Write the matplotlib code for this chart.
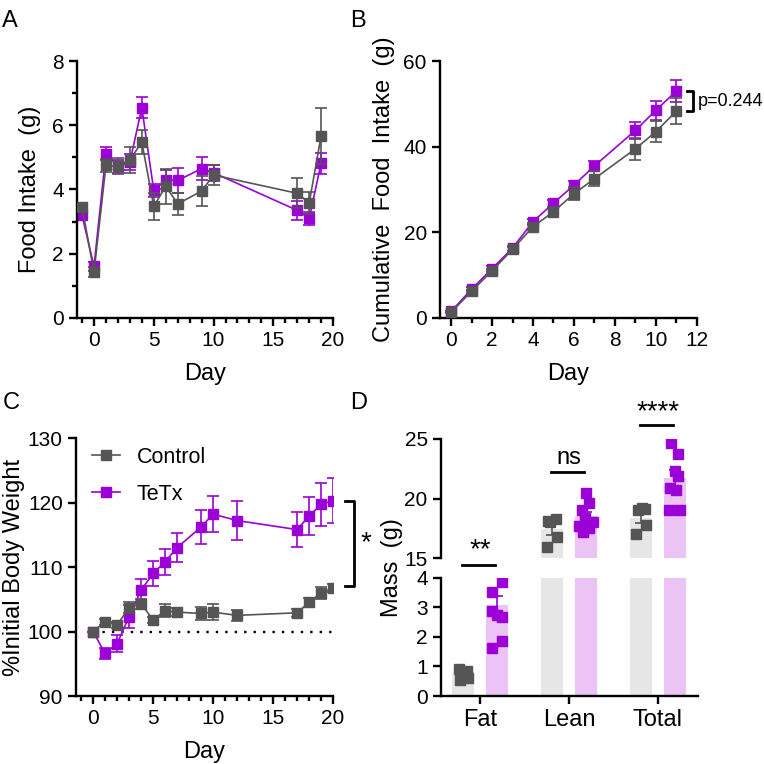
import matplotlib
matplotlib.use("Agg")
import matplotlib.pyplot as plt
import numpy as np
from matplotlib.ticker import MultipleLocator
from matplotlib.lines import Line2D

plt.rcParams['font.family'] = ['Liberation Sans', 'DejaVu Sans']
plt.rcParams['axes.linewidth'] = 1.7

GRAY = '#555555'
PURPLE = '#9b00d6'
LGRAY = '#e6e6e6'
LPURPLE = '#ebc3f5'

# ---------------- Panel A data ----------------
a_days = [-1, 0, 1, 2, 3, 4, 5, 6, 7, 9, 10, 17, 18, 19]
a_ctrl = [3.45, 1.42, 4.75, 4.72, 4.92, 5.48, 3.47, 4.10, 3.55, 3.95, 4.45, 3.88, 3.58, 5.67]
a_ctrl_err = [0.10, 0.15, 0.20, 0.25, 0.40, 0.38, 0.42, 0.55, 0.33, 0.47, 0.30, 0.47, 0.35, 0.87]
a_tetx = [3.20, 1.60, 5.12, 4.72, 4.85, 6.55, 3.97, 4.30, 4.28, 4.65, 4.52, 3.35, 3.10, 4.82]
a_tetx_err = [0.10, 0.15, 0.20, 0.20, 0.25, 0.32, 0.20, 0.30, 0.38, 0.37, 0.25, 0.30, 0.20, 0.33]

# ---------------- Panel B data ----------------
b_days = [0, 1, 2, 3, 4, 5, 6, 7, 9, 10, 11]
b_ctrl = [1.3, 6.2, 11.0, 16.0, 21.3, 24.8, 29.0, 32.5, 39.5, 43.5, 48.3]
b_ctrl_err = [0.2, 0.4, 0.5, 0.6, 0.8, 1.0, 1.5, 1.8, 2.5, 2.5, 3.0]
b_tetx = [1.5, 6.7, 11.5, 16.3, 22.5, 26.8, 31.0, 35.5, 43.8, 48.5, 53.0]
b_tetx_err = [0.2, 0.4, 0.5, 0.6, 0.7, 0.8, 1.0, 1.2, 2.0, 2.2, 2.5]
b_pval = "p=0.244"

# ---------------- Panel C data ----------------
c_days = [0, 1, 2, 3, 4, 5, 6, 7, 9, 10, 12, 17, 18, 19, 20]
c_ctrl = [100, 101.5, 101.0, 103.7, 104.3, 101.8, 103.2, 103.0, 102.8, 103.0, 102.5, 102.9, 104.5, 106.0, 106.7]
c_ctrl_err = [0, 0.5, 0.5, 0.8, 0.8, 0.5, 1.0, 0.6, 1.0, 1.2, 0.9, 0.6, 0.7, 0.9, 0.6]
c_tetx = [100, 96.6, 98.1, 102.3, 106.4, 109.0, 110.8, 113.0, 116.2, 118.2, 117.2, 115.8, 117.9, 119.7, 120.3]
c_tetx_err = [0, 0.8, 1.3, 1.8, 1.8, 2.0, 2.0, 2.2, 2.6, 2.8, 3.0, 2.7, 3.0, 3.3, 3.5]

# ---------------- Panel D data ----------------
d_cats = ['Fat', 'Lean', 'Total']
d_ctrl_pts = [[0.90, 0.85, 0.75, 0.60, 0.55, 0.80],
              [18.3, 18.1, 18.0, 16.8, 15.9],
              [19.2, 19.1, 19.0, 17.8, 17.0]]
d_tetx_pts = [[3.85, 3.53, 2.87, 2.73, 2.68, 1.85, 1.63],
              [20.5, 19.6, 19.0, 18.4, 18.0, 17.7, 17.5, 17.2],
              [24.7, 23.7, 22.3, 21.9, 20.9, 20.7, 19.05, 19.05]]
d_ctrl_mean = [0.73, 17.4, 18.4]
d_ctrl_err = [0.07, 0.5, 0.45]
d_tetx_mean = [3.08, 18.5, 21.7]
d_tetx_err = [0.32, 0.4, 0.7]
d_sig = ['**', 'ns', '****']
d_ctrl_jit = [[-0.05, 0.04, -0.02, 0.06, -0.03, 0.01],
              [0.04, -0.05, -0.02, 0.06, -0.06],
              [0.01, 0.05, -0.03, 0.06, -0.06]]
d_tetx_jit = [[0.06, -0.06, -0.06, 0.0, 0.06, 0.06, -0.06],
              [0.0, 0.03, -0.04, -0.01, 0.08, -0.08, 0.03, -0.03],
              [-0.04, 0.03, 0.0, 0.04, -0.05, 0.01, -0.07, 0.06]]

fig = plt.figure(figsize=(7.64, 7.64), dpi=100)

FS_TICK = 15
FS_LAB = 17
MS = 7.5

def style(ax):
    for s in ['top', 'right']:
        ax.spines[s].set_visible(False)
    ax.tick_params(axis='both', which='major', labelsize=FS_TICK, length=6, width=1.7, direction='out')
    ax.tick_params(axis='both', which='minor', length=3.5, width=1.7, direction='out')

def series(ax, x, y, e, color, label=None, z=2):
    ax.errorbar(x, y, yerr=e, color=color, marker='s', markersize=MS, lw=1.2,
                elinewidth=1.2, capsize=4, capthick=1.2, label=label, zorder=z)

# Panel A
axA = fig.add_axes([0.1008, 0.584, 0.3352, 0.336])
series(axA, a_days, a_tetx, a_tetx_err, PURPLE, z=2)
series(axA, a_days, a_ctrl, a_ctrl_err, GRAY, z=3)
axA.set_xlim(-1.42, 20)
axA.set_ylim(0, 8)
axA.xaxis.set_major_locator(MultipleLocator(5))
axA.xaxis.set_minor_locator(MultipleLocator(1))
axA.yaxis.set_major_locator(MultipleLocator(2))
axA.yaxis.set_minor_locator(MultipleLocator(1))
axA.set_xlabel('Day', fontsize=FS_LAB, labelpad=9)
axA.set_ylabel('Food Intake  (g)', fontsize=FS_LAB, labelpad=8)
style(axA)

# Panel B
axB = fig.add_axes([0.576, 0.584, 0.336, 0.336])
series(axB, b_days, b_tetx, b_tetx_err, PURPLE, z=2)
series(axB, b_days, b_ctrl, b_ctrl_err, GRAY, z=3)
axB.set_xlim(-0.54, 12)
axB.set_ylim(0, 60)
axB.xaxis.set_major_locator(MultipleLocator(2))
axB.xaxis.set_minor_locator(MultipleLocator(1))
axB.yaxis.set_major_locator(MultipleLocator(20))
axB.set_xlabel('Day', fontsize=FS_LAB, labelpad=9)
axB.set_ylabel('Cumulative  Food  Intake  (g)', fontsize=FS_LAB, labelpad=6)
style(axB)
bx0, bx1 = b_days[-1] + 0.5, b_days[-1] + 0.84
axB.plot([bx0, bx1, bx1, bx0], [b_tetx[-1], b_tetx[-1], b_ctrl[-1], b_ctrl[-1]],
         color='black', lw=2, clip_on=False)
axB.text(bx1 + 0.2, (b_tetx[-1] + b_ctrl[-1]) / 2, b_pval, fontsize=13,
         va='center', ha='left')

# Panel C
axC = fig.add_axes([0.0995, 0.089, 0.3365, 0.3377])
series(axC, c_days, c_ctrl, c_ctrl_err, GRAY, z=3)
series(axC, c_days, c_tetx, c_tetx_err, PURPLE, z=2)
axC.plot([0, 20], [100, 100], color='black', lw=1.7, ls=(0, (1, 3)), zorder=1)
axC.set_xlim(-1.42, 20)
axC.set_ylim(90, 130)
axC.xaxis.set_major_locator(MultipleLocator(5))
axC.xaxis.set_minor_locator(MultipleLocator(1))
axC.yaxis.set_major_locator(MultipleLocator(10))
axC.set_xlabel('Day', fontsize=FS_LAB, labelpad=9)
axC.set_ylabel('%Initial Body Weight', fontsize=FS_LAB, labelpad=2)
style(axC)
handles = [Line2D([], [], color=GRAY, marker='s', markersize=MS, lw=1.2),
           Line2D([], [], color=PURPLE, marker='s', markersize=MS, lw=1.2)]
axC.legend(handles, ['Control', 'TeTx'], loc='upper left', frameon=False, fontsize=15.5,
           handlelength=1.3, handletextpad=0.75, borderaxespad=0.0,
           bbox_to_anchor=(0.03, 1.0), labelspacing=0.75)
cx0, cx1 = 21.0, 21.76
axC.plot([cx0, cx1, cx1, cx0], [c_tetx[-1], c_tetx[-1], 107.0, 107.0],
         color='black', lw=2, clip_on=False)
axC.text(cx1 + 0.5, (c_tetx[-1] + 107.0) / 2, '*', fontsize=20, va='center', ha='left')

# Panel D (broken axis)
axDu = fig.add_axes([0.577, 0.2696, 0.3366, 0.1558])
axDl = fig.add_axes([0.577, 0.089, 0.3366, 0.1545])
xc = np.arange(len(d_cats))
off = 0.19
bw = 0.25
for ax in (axDu, axDl):
    ax.bar(xc - off, d_ctrl_mean, width=bw, color=LGRAY, zorder=1)
    ax.bar(xc + off, d_tetx_mean, width=bw, color=LPURPLE, zorder=1)
    ax.errorbar(xc - off, d_ctrl_mean, yerr=d_ctrl_err, fmt='none', ecolor=GRAY,
                elinewidth=1.2, capsize=4, capthick=1.2, zorder=2)
    ax.errorbar(xc + off, d_tetx_mean, yerr=d_tetx_err, fmt='none', ecolor=PURPLE,
                elinewidth=1.2, capsize=4, capthick=1.2, zorder=2)
    for i in range(len(d_cats)):
        ax.plot(xc[i] - off + np.array(d_ctrl_jit[i]), d_ctrl_pts[i], 's', color=GRAY,
                markersize=MS, zorder=3, clip_on=True, lw=0)
        ax.plot(xc[i] + off + np.array(d_tetx_jit[i]), d_tetx_pts[i], 's', color=PURPLE,
                markersize=MS, zorder=3, clip_on=True, lw=0)
    ax.set_xlim(-0.44, 2.45)
    style(ax)

axDu.set_ylim(15, 25)
axDu.yaxis.set_major_locator(MultipleLocator(5))
axDu.spines['bottom'].set_visible(False)
axDu.set_xticks([])
axDl.set_ylim(0, 4)
axDl.yaxis.set_major_locator(MultipleLocator(1))
axDl.set_xticks(xc)
axDl.set_xticklabels(d_cats, fontsize=FS_LAB)
fig.text(0.513, 0.257, 'Mass  (g)', fontsize=FS_LAB, rotation=90, ha='center', va='center')

# significance marks
axDl.plot([xc[0] - 0.2, xc[0] + 0.17], [4.45, 4.45], color='black', lw=2, clip_on=False)
axDl.text(xc[0], 4.5, d_sig[0], fontsize=20, ha='center', va='bottom')
axDu.plot([xc[1] - 0.2, xc[1] + 0.17], [22.2, 22.2], color='black', lw=2, clip_on=False)
axDu.text(xc[1], 22.45, d_sig[1], fontsize=FS_LAB, ha='center', va='bottom')
axDu.plot([xc[2] - 0.2, xc[2] + 0.17], [26.2, 26.2], color='black', lw=2, clip_on=False)
axDu.text(xc[2], 26.2, d_sig[2], fontsize=20, ha='center', va='bottom')

# Panel letters
for lab, (x, y) in zip('ABCD', [(0.003, 0.972), (0.458, 0.972), (0.003, 0.473), (0.458, 0.473)]):
    fig.text(x, y, lab, fontsize=17, ha='left', va='center')

fig.savefig('out.png', dpi=100)
